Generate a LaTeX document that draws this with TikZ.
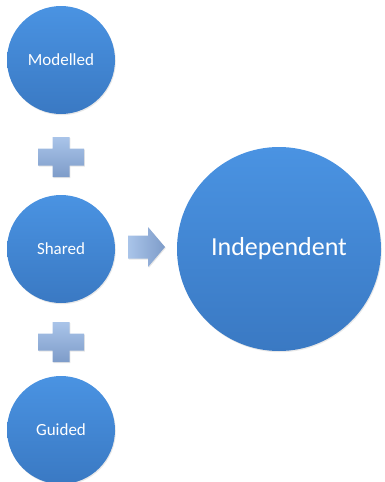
\documentclass[tikz,border=0pt]{standalone}
\usepackage{fontspec}
\setmainfont{Carlito}
\usetikzlibrary{shadows}
\definecolor{ctop}{HTML}{4A93E2}
\definecolor{cbot}{HTML}{3A79C3}
\definecolor{ptop}{HTML}{A9C4E9}
\definecolor{pbot}{HTML}{7E9CC9}
\tikzset{
  stage/.style={circle, draw=none, top color=ctop, bottom color=cbot, text=white,
    minimum size=108pt, inner sep=0pt, font=\fontsize{17}{20}\selectfont,
    drop shadow={opacity=0.18, shadow xshift=0.8pt, shadow yshift=-1.2pt}},
  bigstage/.style={stage, minimum size=204pt, font=\fontsize{26}{30}\selectfont},
  plusshape/.style={top color=ptop, bottom color=pbot, draw=none,
    drop shadow={opacity=0.2, shadow xshift=0.8pt, shadow yshift=-1pt}},
  arrowshape/.style={left color=ptop, right color=pbot, draw=none,
    drop shadow={opacity=0.2, shadow xshift=0.8pt, shadow yshift=-1pt}}
}
\newcommand{\plussign}[1]{%
  \path[plusshape] (#1) ++(-8.5,-20) -- ++(17,0) -- ++(0,11.5) -- ++(14.5,0)
    -- ++(0,17) -- ++(-14.5,0) -- ++(0,11.5) -- ++(-17,0) -- ++(0,-11.5)
    -- ++(-14.5,0) -- ++(0,-17) -- ++(14.5,0) -- cycle;}
\begin{document}
\begin{tikzpicture}[x=1pt, y=-1pt]
  \useasboundingbox (0,0) rectangle (384,482);
  \node[stage] (modelled) at (61,60) {Modelled};
  \node[stage] (shared) at (61,249) {Shared};
  \node[stage] (guided) at (61,430) {Guided};
  \node[bigstage] (independent) at (279,249) {Independent};
  \coordinate (plusA) at (61,157);
  \coordinate (plusB) at (61,342);
  \plussign{plusA}
  \plussign{plusB}
  \coordinate (arrow) at (128,247);
  \path[arrowshape] (arrow) ++(0,-11.5) -- ++(20,0) -- ++(0,-8.5) -- ++(17,20)
    -- ++(-17,20) -- ++(0,-8.5) -- ++(-20,0) -- cycle;
\end{tikzpicture}
\end{document}
